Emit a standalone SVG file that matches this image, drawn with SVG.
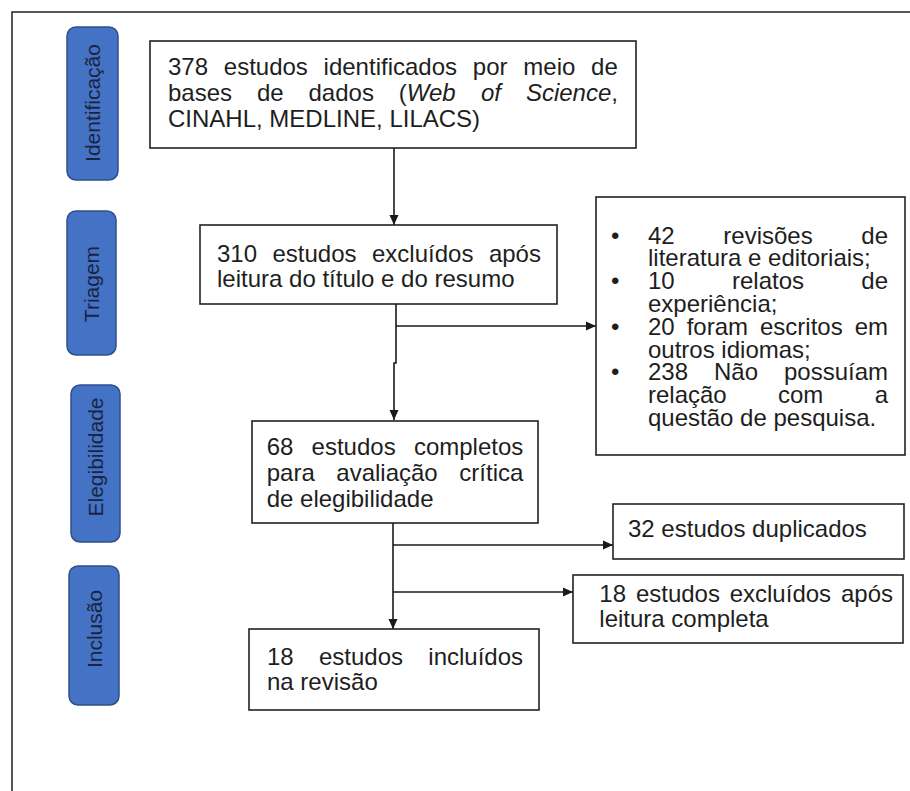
<svg xmlns="http://www.w3.org/2000/svg" width="910" height="791" viewBox="0 0 910 791">
  <style>
    .frame { fill: none; stroke: #222; stroke-width: 1.5; }
    .box { fill: #fff; stroke: #222; stroke-width: 1.6; }
    .pill { fill: #4472c4; stroke: #2f4f8a; stroke-width: 1.5; }
    .pill-label { font-family: "Liberation Sans", Arial, sans-serif; font-size: 21px; fill: #1a2440; text-anchor: middle; }
    .t { font-family: "Liberation Sans", Arial, sans-serif; font-size: 24px; fill: #1e1e1e; }
    .it { font-style: italic; }
    .conn { fill: none; stroke: #1a1a1a; stroke-width: 1.6; }
  </style>
  <defs>
    <marker id="arrow" markerUnits="userSpaceOnUse" markerWidth="10" markerHeight="10" viewBox="0 0 10 10" refX="10" refY="5" orient="auto">
      <path d="M0,0.5 L10,5 L0,9.5 Z" fill="#1a1a1a"/>
    </marker>
  </defs>

  <rect width="910" height="791" fill="#fff"/>
  <!-- outer frame (top and left edges) -->
  <path class="frame" d="M12,791 V12 H910"/>

  <!-- stage labels -->
  <g id="stage-identificacao">
    <rect class="pill" x="67" y="27" width="51" height="153" rx="9"/>
    <text class="pill-label" transform="translate(92.5,103) rotate(-90)" dy="0.36em">Identificação</text>
  </g>
  <g id="stage-triagem">
    <rect class="pill" x="67" y="211" width="49" height="144" rx="9"/>
    <text class="pill-label" transform="translate(91.5,284) rotate(-90)" dy="0.36em">Triagem</text>
  </g>
  <g id="stage-elegibilidade">
    <rect class="pill" x="71" y="385" width="49" height="157" rx="9"/>
    <text class="pill-label" transform="translate(95.5,457) rotate(-90)" dy="0.36em">Elegibilidade</text>
  </g>
  <g id="stage-inclusao">
    <rect class="pill" x="69" y="566" width="50" height="139" rx="9"/>
    <text class="pill-label" transform="translate(94,629) rotate(-90)" dy="0.36em">Inclusão</text>
  </g>

  <!-- connectors -->
  <g id="connectors">
    <path class="conn" d="M394,148 V225" marker-end="url(#arrow)"/>
    <path class="conn" d="M396,304 V363 H394 V420" marker-end="url(#arrow)"/>
    <path class="conn" d="M396,326 H596" marker-end="url(#arrow)"/>
    <path class="conn" d="M393,523 V629" marker-end="url(#arrow)"/>
    <path class="conn" d="M393,545 H613" marker-end="url(#arrow)"/>
    <path class="conn" d="M393,592 H573" marker-end="url(#arrow)"/>
  </g>

  <!-- identification -->
  <g id="node-identificados">
    <rect class="box" x="150" y="41" width="486" height="107"/>
    <text class="t" y="75">
      <tspan x="168">378</tspan><tspan x="223.8">estudos</tspan><tspan x="323.6">identificados</tspan><tspan x="472.8">por</tspan><tspan x="523.3">meio</tspan><tspan x="591.1">de</tspan>
    </text>
    <text class="t" y="101">
      <tspan x="168">bases</tspan><tspan x="256.9">de</tspan><tspan x="308.5">dados</tspan><tspan x="398.8">(</tspan><tspan class="it">Web</tspan><tspan x="481" class="it">of</tspan><tspan x="525.9" class="it">Science</tspan><tspan>,</tspan>
    </text>
    <text class="t" x="168" y="127">CINAHL, MEDLINE, LILACS)</text>
  </g>

  <!-- screening -->
  <g id="node-triagem">
    <rect class="box" x="200" y="225" width="357" height="79"/>
    <text class="t" y="262">
      <tspan x="217">310</tspan><tspan x="272.5">estudos</tspan><tspan x="372">excluídos</tspan><tspan x="488.9">após</tspan>
    </text>
    <text class="t" x="217" y="287">leitura do título e do resumo</text>
  </g>

  <!-- exclusion reasons -->
  <g id="node-motivos">
    <rect class="box" x="596" y="197" width="309" height="258"/>
    <text class="t" x="611" y="243.5">•</text>
    <text class="t" y="243.5"><tspan x="648">42</tspan><tspan x="723.3">revisões</tspan><tspan x="861.3">de</tspan></text>
    <text class="t" x="648" y="266.3">literatura e editoriais;</text>
    <text class="t" x="611" y="289.1">•</text>
    <text class="t" y="289.1"><tspan x="648">10</tspan><tspan x="732">relatos</tspan><tspan x="861.3">de</tspan></text>
    <text class="t" x="648" y="311.9">experiência;</text>
    <text class="t" x="611" y="334.7">•</text>
    <text class="t" y="334.7"><tspan x="648">20</tspan><tspan x="686.7">foram</tspan><tspan x="760">escritos</tspan><tspan x="854.7">em</tspan></text>
    <text class="t" x="648" y="357.5">outros idiomas;</text>
    <text class="t" x="611" y="380.3">•</text>
    <text class="t" y="380.3"><tspan x="648">238</tspan><tspan x="714">Não</tspan><tspan x="784">possuíam</tspan></text>
    <text class="t" y="403.1"><tspan x="648">relação</tspan><tspan x="778">com</tspan><tspan x="874.7">a</tspan></text>
    <text class="t" x="648" y="425.9">questão de pesquisa.</text>
  </g>

  <!-- eligibility -->
  <g id="node-elegibilidade">
    <rect class="box" x="252" y="421" width="286" height="102"/>
    <text class="t" y="455"><tspan x="266.7">68</tspan><tspan x="311.6">estudos</tspan><tspan x="413.9">completos</tspan></text>
    <text class="t" y="481"><tspan x="266.7">para</tspan><tspan x="336.3">avaliação</tspan><tspan x="459.3">crítica</tspan></text>
    <text class="t" x="266.7" y="507">de elegibilidade</text>
  </g>

  <g id="node-duplicados">
    <rect class="box" x="613" y="504" width="291" height="55"/>
    <text class="t" x="628" y="537">32 estudos duplicados</text>
  </g>

  <g id="node-excluidos">
    <rect class="box" x="573" y="575" width="330" height="68"/>
    <text class="t" y="602"><tspan x="599.3">18</tspan><tspan x="635.9">estudos</tspan><tspan x="729.7">excluídos</tspan><tspan x="841">após</tspan></text>
    <text class="t" x="599.3" y="627">leitura completa</text>
  </g>

  <!-- inclusion -->
  <g id="node-incluidos">
    <rect class="box" x="249" y="629" width="290" height="81"/>
    <text class="t" y="665"><tspan x="267">18</tspan><tspan x="319">estudos</tspan><tspan x="428.3">incluídos</tspan></text>
    <text class="t" x="267" y="690">na revisão</text>
  </g>
</svg>
